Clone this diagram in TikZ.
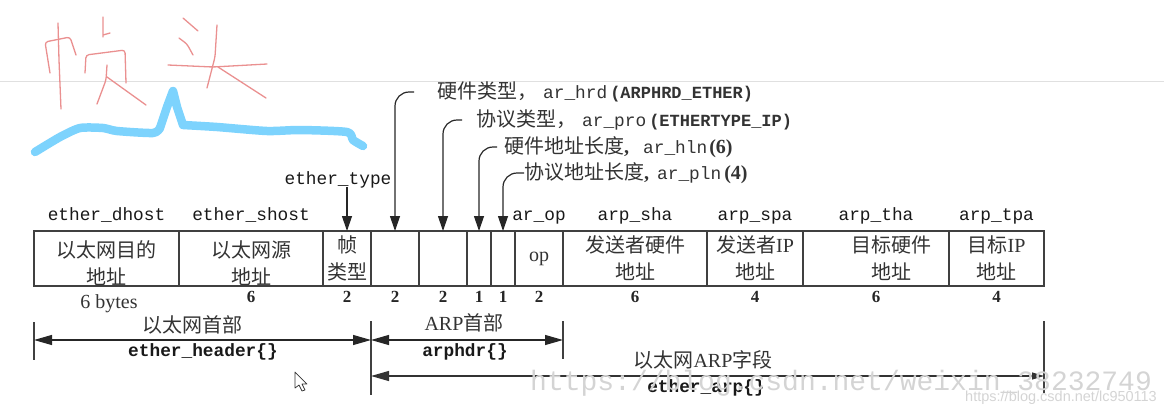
\documentclass[tikz,border=0pt]{standalone}
\usepackage{fontspec}
\setmainfont{Liberation Serif}
\setsansfont{Liberation Sans}
\setmonofont{Liberation Mono}
\newfontfamily\cjk{Noto Sans CJK SC}
\usepackage{tikz}
\usetikzlibrary{arrows.meta,positioning}
\definecolor{inkred}{HTML}{EA9090}
\definecolor{inkblue}{HTML}{7DD3FD}
\newcommand{\zh}[1]{{\cjk #1}}
\newcommand{\us}{\_}
\newcommand{\argname}[1]{{\ttfamily\fontsize{17.8}{20}\selectfont #1}}
\newcommand{\argval}[1]{{\ttfamily\bfseries\fontsize{17}{20}\selectfont #1}}

\begin{document}
\begin{tikzpicture}[x=1pt, y=-1pt]
\tikzstyle{field}=[rectangle, draw=black!75, line width=1.2pt, minimum height=55pt, inner sep=0pt, outer sep=0pt, text=black!80, align=center, font=\fontsize{20}{27}\selectfont]
\tikzstyle{tag}=[font=\fontsize{17.8}{20}\selectfont\ttfamily, text=black!90, inner sep=0pt, text height=11pt, text depth=3pt]
\tikzstyle{size}=[font=\fontsize{17}{20}\selectfont\bfseries, text=black!85, inner sep=0pt]
\tikzstyle{note}=[font=\fontsize{20}{22}\selectfont, text=black!80, inner sep=0pt]
\tikzstyle{func}=[font=\fontsize{17.8}{20}\selectfont\ttfamily\bfseries, text=black!90, inner sep=0pt]
\tikzstyle{callout}=[note, anchor=west]
\tikzstyle{connect}=[-{Triangle[length=15pt,width=10pt]}, line width=1.2pt, black!85, rounded corners=14pt]
\tikzstyle{span}=[{Triangle[length=18pt,width=10pt]}-{Triangle[length=18pt,width=10pt]}, line width=1.2pt, black!85]
\tikzstyle{spanlong}=[{Triangle[length=18pt,width=10pt]}-{Triangle[length=12pt,width=7pt]}, line width=1.2pt, black!80]
\tikzstyle{bar}=[line width=1.2pt, black!75]
\tikzstyle{pen}=[inkred, line width=1.3pt, line cap=round, line join=round, rounded corners=3pt]
\tikzstyle{swoosh}=[inkblue, line width=8.5pt, line cap=round, line join=round]
\tikzstyle{wmark}=[black!17, inner sep=0pt]

  \useasboundingbox (0,0) rectangle (1164,416);
  \draw[black!12, line width=0.6pt] (0,81) -- (1164,81);

  % handwriting
  \draw[pen] (58,23) -- (59,60) -- (61,109);
  \draw[pen] (50,73) -- (45,42) -- (70,37) -- (76,55);
  \draw[pen] (103,17) -- (103,37) (103,35) -- (110,33);
  \draw[pen] (85,73) -- (86,55) -- (125,50) -- (126,83);
  \draw[pen] (107,65) -- (106,80) -- (97,104) (107,77) -- (146,105);
  \draw[pen] (183,18) -- (198,31) (179,38) -- (187,44) -- (193,55);
  \draw[pen] (168,65) -- (213,67) -- (267,64);
  \draw[pen] (217,25) -- (215,57) -- (207,88) (218,67) -- (266,98);
  \draw[swoosh] plot[smooth, tension=0.4] coordinates {(35,152) (60,137) (80,128) (103,128) (117,131) (153,133) (160,128)};
  \draw[swoosh] (160,128) -- (167,107) -- (173,91) -- (177,107) -- (183,125);
  \draw[swoosh] plot[smooth, tension=0.4] coordinates {(183,125) (217,127) (267,131) (300,130) (347,132) (353,140) (363,146)};

  % header cells
  \node[field, minimum width=145pt, anchor=north west] (dhost) at (34,231) {\rule{0pt}{26pt}\zh{以太网目的}\\\zh{地址}};
  \node[field, minimum width=144pt] (shost) [right=0pt of dhost] {\rule{0pt}{26pt}\zh{以太网源}\\\zh{地址}};
  \node[field, minimum width=48pt] (type) [right=0pt of shost] {\zh{帧}\\\zh{类型}};
  \node[field, minimum width=48pt] (hrd) [right=0pt of type] {};
  \node[field, minimum width=48pt] (pro) [right=0pt of hrd] {};
  \node[field, minimum width=24pt] (hln) [right=0pt of pro] {};
  \node[field, minimum width=24pt] (pln) [right=0pt of hln] {};
  \node[field, minimum width=48pt] (op) [right=0pt of pln] {op};
  \node[field, minimum width=144pt] (sha) [right=0pt of op] {\zh{发送者硬件}\\\zh{地址}};
  \node[field, minimum width=96pt] (spa) [right=0pt of sha] {\zh{发送者}IP\\\zh{地址}};
  \node[field, minimum width=146pt] (tha) [right=0pt of spa] {};
  \node[field, minimum width=95pt] (tpa) [right=0pt of tha] {\zh{目标}IP\\\zh{地址}};
  \node[field, draw=none, minimum width=146pt, xshift=15pt] (thatxt) at (tha) {\zh{目标硬件}\\\zh{地址}};

  % names over the cells
  \node[tag] (ndhost) [above=7pt of dhost] {ether\us dhost};
  \node[tag] (nshost) [above=7pt of shost] {ether\us shost};
  \node[tag] (ntype) at (338,180) {ether\us type};
  \node[tag] (nop) [above=7pt of op] {ar\us op};
  \node[tag] (nsha) [above=7pt of sha] {arp\us sha};
  \node[tag] (nspa) [above=7pt of spa] {arp\us spa};
  \node[tag] (ntha) [above=7pt of tha] {arp\us tha};
  \node[tag] (ntpa) [above=7pt of tpa] {arp\us tpa};

  % sizes
  \node[note] (bdhost) at (109,304) {6 bytes};
  \node[size] (bshost) [below=5pt of shost] {6};
  \node[size] (btype) [below=5pt of type] {2};
  \node[size] (bhrd) [below=5pt of hrd] {2};
  \node[size] (bpro) [below=5pt of pro] {2};
  \node[size] (bhln) [below=5pt of hln] {1};
  \node[size] (bpln) [below=5pt of pln] {1};
  \node[size] (bop) [below=5pt of op] {2};
  \node[size] (bsha) [below=5pt of sha] {6};
  \node[size] (bspa) [below=5pt of spa] {4};
  \node[size] (btha) [below=5pt of tha] {6};
  \node[size] (btpa) [below=5pt of tpa] {4};

  % callouts
  \node[callout] (lhrd) at (437,92) {\zh{硬件类型，}\hspace{6pt}\argname{ar\us hrd}\hspace{3pt}\argval{(ARPHRD\us ETHER)}};
  \node[callout] (lpro) at (476,120) {\zh{协议类型，}\hspace{6pt}\argname{ar\us pro}\hspace{3pt}\argval{(ETHERTYPE\us IP)}};
  \node[callout] (lhln) at (504,147) {\zh{硬件地址长度}\textbf{,}\hspace{14pt}\argname{ar\us hln}\hspace{2pt}\textbf{(6)}};
  \node[callout] (lpln) at (524,173) {\zh{协议地址长度}\textbf{,}\hspace{8pt}\argname{ar\us pln}\hspace{3pt}\textbf{(4)}};

  \draw[connect] (ntype.south -| type.north) -- (type.north);
  \draw[connect] ([xshift=-23pt]lhrd.west) -| (hrd.north);
  \draw[connect] ([xshift=-14pt]lpro.west) -| (pro.north);
  \draw[connect] ([xshift=-7pt]lhln.west) -| (hln.north);
  \draw[connect] (lpln.west) -| (pln.north);

  % extents
  \coordinate (e1) at (34,322);
  \coordinate (e2) at (34,360);
  \coordinate (a1) at (371,321);
  \coordinate (a2) at (371,395);
  \coordinate (h1) at (563,321);
  \coordinate (h2) at (563,359);
  \coordinate (t1) at (1044,321);
  \coordinate (t2) at (1044,393);
  \coordinate (es) at (34,340);
  \coordinate (ee) at (371,340);
  \coordinate (hs) at (563,340);
  \coordinate (ts) at (371,376);
  \coordinate (te) at (1044,376);

  \path (e1) edge [bar] (e2)
        (a1) edge [bar] (a2)
        (h1) edge [bar] (h2)
        (t1) edge [bar] (t2)
        (es) edge [span] (ee)
        (ee) edge [span] (hs)
        (ts) edge [spanlong] (te);

  \node[note] (lhdr) at (192,325) {\zh{以太网首部}};
  \node[func] (fhdr) at (203,352) {ether\us header\{\}};
  \node[note] (larp) at (464,323) {ARP\zh{首部}};
  \node[func] (farp) at (465,352) {arphdr\{\}};
  \node[note] (lfld) at (703,360) {\zh{以太网}ARP\zh{字段}};
  \node[func] (ffld) at (706,388) {ether\us arp\{\}};

  % pointer
  \draw[black!80, fill=white, line width=0.7pt, line join=round] (295,372) -- (295,388) -- (299,385) -- (302,391) -- (305,390) -- (302,384) -- (307,384) -- cycle;

  % watermarks
  \node[wmark, anchor=west, font=\fontsize{28}{30}\selectfont\ttfamily] (wm1) at (530,383) {https://blog.csdn.net/weixin\us 38232749};
  \node[wmark, anchor=east, font=\fontsize{14.5}{16}\selectfont\sffamily] (wm2) at (1157,398) {https://blog.csdn.net/lc950113};

\end{tikzpicture}
\end{document}
